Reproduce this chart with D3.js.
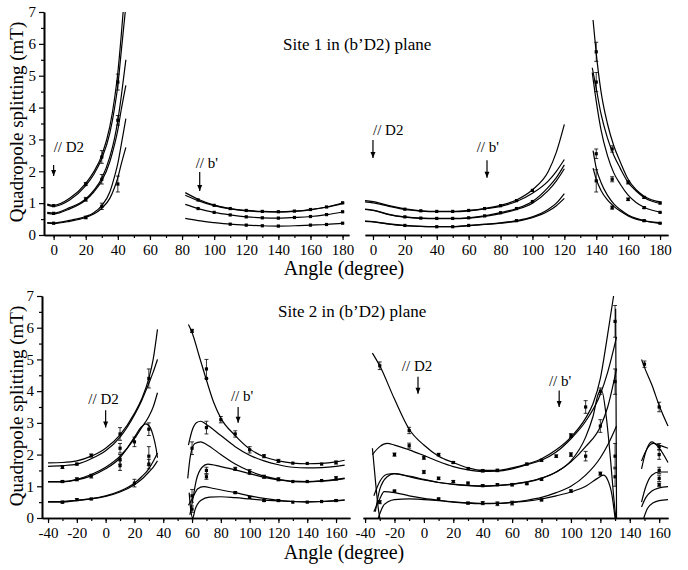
<!DOCTYPE html>
<html>
<head>
<meta charset="utf-8">
<script src="https://cdn.jsdelivr.net/npm/d3@7"></script>
<style>
  body { margin: 0; background: #fff; }
  svg { display: block; }
  text { font-family: "Liberation Serif", "Times New Roman", serif; fill: #000; }
</style>
</head>
<body>
<div id="chart"></div>
<script>
// ---------- DATA (angle in degree, quadrupole splitting in mT) ----------

// Site 1, left view, branch 0..45
const s1aCurves = [
  [[-4,0.97],[0,0.93],[10,1.15],[20,1.62],[25,1.98],[30,2.5],[35,3.4],[38,4.3],[40,5.1],[42,6.2],[43.3,7.0]],
  [[-4,0.94],[0,0.9],[10,1.1],[20,1.55],[25,1.9],[30,2.4],[35,3.2],[38,4.0],[40,4.7],[42,5.7],[44.6,7.0]],
  [[-4,0.71],[0,0.69],[10,0.86],[20,1.13],[25,1.4],[30,1.78],[35,2.45],[38,3.05],[40,3.6],[42,4.3],[45,5.5]],
  [[-4,0.68],[0,0.66],[10,0.82],[20,1.1],[25,1.35],[30,1.7],[35,2.3],[38,2.85],[40,3.3],[42,3.9],[45,4.7]],
  [[-4,0.39],[0,0.38],[10,0.46],[20,0.58],[25,0.7],[30,0.92],[35,1.35],[38,1.85],[40,2.25],[42,2.8],[45,3.65]],
  [[-4,0.37],[0,0.36],[10,0.43],[20,0.55],[25,0.66],[30,0.84],[35,1.15],[38,1.5],[40,1.8],[42,2.2],[45,2.75]]
]
const s1aPoints = [
  [0,0.92,0],[0,0.68,0],[0,0.37,0],
  [20,1.6,0.05],[20,1.12,0.06],[20,0.55,0.04],
  [30,2.45,0.2],[30,1.75,0.15],[30,0.9,0.1],
  [40,4.8,0.25],[40,3.6,0.15],[40,1.6,0.25]
]

// Site 1, left view, branch 82..180
const s1bCurves = [
  [[82,1.33],[90,1.12],[100,0.94],[110,0.83],[120,0.77],[130,0.74],[140,0.73],[150,0.75],[160,0.8],[170,0.88],[181,1.02]],
  [[82,1.25],[90,1.08],[100,0.92],[110,0.82],[120,0.76],[130,0.73],[140,0.72],[150,0.74],[160,0.79],[170,0.87],[181,1.0]],
  [[82,0.96],[90,0.83],[100,0.71],[110,0.63],[120,0.57],[130,0.54],[140,0.53],[150,0.55],[160,0.58],[170,0.64],[181,0.73]],
  [[82,0.52],[90,0.45],[100,0.39],[110,0.34],[120,0.31],[130,0.29],[140,0.28],[150,0.29],[160,0.31],[170,0.33],[181,0.37]]
]
const s1bPoints = [
  [90,1.1],[100,0.93],[110,0.83],[120,0.77],[130,0.74],[140,0.73],[150,0.75],[160,0.8],[170,0.88],[180,1.01],
  [90,0.83],[100,0.71],[110,0.63],[120,0.57],[130,0.54],[140,0.53],[150,0.55],[160,0.58],[170,0.64],[180,0.73],
  [110,0.34],[120,0.31],[130,0.29],[140,0.28],[160,0.31],[170,0.33],[180,0.37]
]

// Site 1, right view, branch -5..120
const s1cCurves = [
  [[-5,1.08],[0,1.05],[10,0.92],[20,0.82],[30,0.76],[40,0.74],[50,0.74],[60,0.77],[70,0.83],[80,0.93],[90,1.1],[100,1.42],[110,2.0],[115,2.6],[120,3.47]],
  [[-5,1.04],[0,1.01],[10,0.9],[20,0.8],[30,0.75],[40,0.73],[50,0.73],[60,0.76],[70,0.82],[80,0.9],[90,1.05],[100,1.31],[110,1.7],[115,2.0],[120,2.37]],
  [[-5,0.81],[0,0.78],[10,0.65],[20,0.57],[30,0.53],[40,0.52],[50,0.52],[60,0.54],[70,0.6],[80,0.7],[90,0.83],[100,1.05],[110,1.5],[115,1.8],[120,2.2]],
  [[-5,0.8],[0,0.77],[10,0.64],[20,0.56],[30,0.52],[40,0.51],[50,0.51],[60,0.53],[70,0.58],[80,0.67],[90,0.8],[100,1.0],[110,1.4],[115,1.7],[120,2.08]],
  [[-5,0.44],[0,0.42],[10,0.35],[20,0.3],[30,0.27],[40,0.26],[50,0.26],[60,0.3],[70,0.34],[80,0.38],[90,0.45],[100,0.57],[110,0.81],[115,1.0],[120,1.3]],
  [[-5,0.43],[0,0.41],[10,0.34],[20,0.29],[30,0.27],[40,0.26],[50,0.26],[60,0.29],[70,0.33],[80,0.37],[90,0.43],[100,0.54],[110,0.75],[115,0.92],[120,1.15]]
]
const s1cPoints = [
  [20,0.81],[30,0.76],[40,0.74],[50,0.74],[60,0.77],[70,0.83],[80,0.92],[90,1.08],[100,1.4],
  [20,0.57],[30,0.53],[40,0.52],[50,0.52],[60,0.54],[70,0.6],[80,0.7],[90,0.83],[100,1.05],
  [20,0.3],[40,0.26],[50,0.26],[60,0.3],[90,0.45]
]

// Site 1, right view, branch 138..180
const s1dCurves = [
  [[138,6.75],[140,5.7],[143,4.5],[147,3.5],[151,2.8],[155,2.3],[160,1.75],[165,1.42],[170,1.22],[181,1.03]],
  [[137.5,5.25],[140,4.6],[143,3.8],[147,3.05],[151,2.5],[155,2.1],[160,1.65],[165,1.38],[170,1.18],[181,0.98]],
  [[137.5,5.1],[140,4.2],[143,3.3],[147,2.5],[151,1.95],[155,1.6],[160,1.25],[165,1.02],[170,0.87],[181,0.71]],
  [[138,2.65],[140,2.1],[143,1.65],[147,1.25],[151,0.98],[155,0.8],[160,0.63],[165,0.52],[170,0.45],[181,0.38]],
  [[138,2.1],[140,1.75],[143,1.4],[147,1.1],[151,0.9],[155,0.75],[160,0.6],[165,0.5],[170,0.44],[181,0.36]]
]
const s1dPoints = [
  [140,5.75,0.3],[140,4.8,0.3],[140,2.55,0.15],[140,1.7,0.35],
  [150,2.7,0.1],[150,1.75,0.08],[150,0.86,0.05],
  [160,1.65,0.05],[160,1.12,0.04],
  [170,1.18,0.03],[170,0.86,0.03],[170,0.45,0.02],
  [180,1.0],[180,0.71],[180,0.37]
]

// Site 2, left view, branch -40..36
const s2aCurves = [
  [[-40,1.74],[-30,1.75],[-20,1.8],[-10,1.95],[0,2.2],[10,2.62],[20,3.3],[25,3.75],[30,4.4],[33,5.0],[36,5.95]],
  [[-40,1.63],[-30,1.65],[-20,1.7],[-10,1.87],[0,2.12],[10,2.55],[20,3.25],[25,3.7],[30,4.25],[33,4.6],[36,5.0]],
  [[-40,1.15],[-30,1.15],[-20,1.22],[-10,1.37],[0,1.6],[10,1.95],[20,2.5],[25,2.85],[30,3.2],[33,3.5],[36,3.95]],
  [[-40,1.14],[-30,1.14],[-20,1.2],[-10,1.33],[0,1.55],[10,1.9],[15,2.2],[20,2.55],[25,2.88],[28,2.97],[31,2.85],[33,2.6],[35,2.2],[36,1.9]],
  [[-40,0.52],[-30,0.52],[-20,0.56],[-10,0.61],[0,0.7],[10,0.85],[20,1.1],[25,1.3],[30,1.55],[33,1.78],[36,2.05]],
  [[-40,0.5],[-30,0.5],[-20,0.55],[-10,0.6],[0,0.68],[10,0.82],[20,1.05],[25,1.22],[30,1.45],[33,1.6],[36,1.8]]
]
const s2aPoints = [
  [-30,1.6,0.04],[-30,1.15,0.03],[-30,0.5,0.03],
  [-20,1.7,0.03],[-20,1.22,0.05],[-20,0.58,0.03],
  [-10,1.97,0.05],[-10,1.32,0.06],[-10,0.6,0.02],
  [10,2.65,0.2],[10,2.2,0.15],[10,1.85,0.15],[10,1.65,0.15],
  [20,2.4,0.15],[20,1.1,0.12],
  [30,4.4,0.3],[30,2.8,0.2],[30,1.95,0.3],[30,1.7,0.15]
]

// Site 2, left view, branch 57..166
const s2bCurves = [
  [[57.5,6.1],[60,5.85],[65,5.1],[70,4.35],[75,3.65],[80,3.15],[90,2.6],[100,2.18],[110,1.93],[120,1.8],[130,1.73],[140,1.71],[150,1.72],[160,1.77],[166,1.82]],
  [[57.5,2.3],[60,2.75],[63,3.0],[66,3.05],[70,2.95],[80,2.6],[90,2.25],[100,1.98],[110,1.8],[120,1.68],[130,1.6],[140,1.58],[150,1.59],[160,1.63],[166,1.67]],
  [[57,1.25],[59,2.0],[62,2.35],[66,2.4],[70,2.32],[80,2.0],[90,1.7],[100,1.48],[110,1.32],[120,1.22],[130,1.16],[140,1.15],[150,1.17],[160,1.22],[166,1.26]],
  [[58.5,0.1],[60,0.45],[63,1.2],[67,1.6],[71,1.7],[80,1.62],[90,1.52],[100,1.4],[110,1.28],[120,1.2],[130,1.15],[140,1.14],[150,1.16],[160,1.2],[166,1.24]],
  [[57.5,0.4],[60,0.6],[64,0.92],[68,0.99],[75,0.93],[90,0.8],[100,0.7],[110,0.62],[120,0.56],[130,0.52],[140,0.51],[150,0.52],[160,0.55],[166,0.57]],
  [[58,0.8],[59,0.3],[60.5,0.0],[62,0.25],[66,0.55],[72,0.66],[80,0.67],[90,0.64],[100,0.6],[110,0.56],[120,0.54],[130,0.52],[140,0.51],[150,0.52],[160,0.54],[166,0.56]]
]
const s2bPoints = [
  [60,5.9,0.05],[60,2.2,0.2],[60,0.7,0.2],[60,0.28,0.1],
  [70,4.7,0.3],[70,4.4,0],[70,2.85,0.2],[70,1.5,0.1],[70,1.3,0.08],
  [80,3.1,0.1],
  [90,2.65,0.1],[90,1.55,0.05],[90,0.8,0.03],
  [100,2.15,0.1],[100,1.45,0.08],[100,0.65,0.03],
  [110,1.95,0.05],[110,1.3,0.05],[110,0.55,0.03],
  [120,1.8,0.05],[120,1.22,0.05],[120,0.55,0.03],
  [130,1.73],[130,1.15],[130,0.5],
  [140,1.72],[140,1.15],[140,0.5],
  [150,1.7],[150,1.18],[150,0.52],
  [160,1.75,0.05],[160,1.25,0.06],[160,0.55,0.03]
]

// Site 2, right view, branch -35..131
const s2cCurves = [
  [[-35,5.2],[-30,4.8],[-20,3.75],[-10,2.8],[0,2.3],[10,1.95],[20,1.75],[30,1.58],[40,1.5],[50,1.5],[60,1.58],[70,1.7],[80,1.87],[90,2.15],[100,2.55],[110,3.15],[115,3.6],[120,4.4],[124,5.5],[127,6.4],[129,7.0]],
  [[-35,2.0],[-30,2.25],[-25,2.35],[-20,2.3],[-10,2.15],[0,1.97],[10,1.78],[20,1.62],[30,1.52],[40,1.47],[50,1.48],[60,1.55],[70,1.68],[80,1.82],[90,2.08],[100,2.5],[110,3.05],[120,3.9],[125,4.6],[131,5.7]],
  [[-33,0.2],[-30,0.9],[-25,1.3],[-20,1.4],[-10,1.32],[0,1.22],[10,1.12],[20,1.07],[30,1.03],[40,1.01],[50,1.03],[60,1.07],[70,1.14],[80,1.26],[90,1.45],[100,1.77],[110,2.25],[120,2.88],[125,3.5],[131,4.7]],
  [[-34,0.7],[-30,1.15],[-25,1.38],[-20,1.4],[-10,1.3],[0,1.2],[10,1.12],[20,1.06],[30,1.02],[40,1.0],[50,1.02],[60,1.06],[70,1.13],[80,1.25],[90,1.45],[100,1.8],[110,2.55],[115,3.2],[119,3.95],[121,4.0],[124,3.2],[127,1.8],[129,0.7],[130.5,0.0]],
  [[-34,0.2],[-30,0.6],[-27,0.83],[-20,0.8],[-10,0.7],[0,0.62],[10,0.56],[20,0.51],[30,0.48],[40,0.46],[50,0.46],[60,0.49],[70,0.53],[80,0.6],[90,0.7],[100,0.82],[110,1.0],[118,1.25],[122,1.35],[125,1.2],[128,0.7],[130,0.0]],
  [[-31,0.0],[-28,0.35],[-24,0.52],[-20,0.58],[-10,0.6],[0,0.58],[10,0.55],[20,0.5],[30,0.47],[40,0.45],[50,0.46],[60,0.5],[70,0.56],[80,0.65],[90,0.8],[100,1.0],[110,1.35],[120,1.9],[125,2.3],[131,2.9]],
  [[-35,2.2],[-33,1.2],[-31,0.3],[-30,0.0]],
  [[130.4,6.6],[130.7,3.5],[131,0.0]]
]
const s2cPoints = [
  [-30,4.8,0.12],[-30,0.5,0.05],
  [-20,2.0,0.05],[-20,0.85,0.03],
  [-10,2.76,0.1],[-10,2.28,0.08],
  [0,1.9,0.05],[0,1.45,0.05],
  [10,2.0,0.04],[10,1.25,0.04],[10,0.6,0.03],
  [20,1.75,0.03],[20,1.15,0.03],
  [30,1.56,0.03],[30,1.1,0.03],[30,0.47,0.03],
  [40,1.49,0.04],[40,1.02,0.03],[40,0.47,0.05],
  [50,1.5,0.04],[50,1.05,0.03],[50,0.45,0.06],
  [60,1.05,0.04],[60,0.47,0.06],
  [70,1.7,0.03],[70,1.08,0.02],
  [80,1.82,0.03],[80,1.22,0.03],[80,0.57,0.03],
  [90,1.95,0.04],
  [100,2.6,0.06],[100,2.0,0.06],[100,0.85,0.04],
  [110,3.5,0.2],[110,1.95,0.15],
  [120,4.0,0.1],[120,2.9,0.2],[120,1.4,0.05],
  [130,6.2,0.5],[130,4.3,0.4],[130,1.95,0.4],[130,1.3,0.3]
]

// Site 2, right view, branch 148..166
const s2dCurves = [
  [[148,5.0],[150,4.75],[155,4.2],[160,3.55],[166,2.9]],
  [[148,1.8],[152,2.2],[156,2.35],[160,2.3],[166,2.2]],
  [[148,1.55],[151,2.1],[155,2.4],[160,2.2],[166,1.75]],
  [[148,0.5],[151,1.0],[155,1.35],[160,1.45],[166,1.45]],
  [[148,0.35],[151,0.65],[155,0.85],[160,0.95],[166,0.99]],
  [[149.5,0.0],[152,0.3],[156,0.48],[160,0.55],[166,0.58]]
]
const s2dPoints = [
  [150,4.85,0.1],[160,3.5,0.15],[160,2.25,0.1],[160,2.0,0.15],[160,1.5,0.1],[160,1.25,0.1],[160,1.05,0.05]
]

// tick labels
const yTicks = [0, 1, 2, 3, 4, 5, 6, 7]
const xTicksTop = [0, 20, 40, 60, 80, 100, 120, 140, 160, 180]
const xTicksBottom = [-40, -20, 0, 20, 40, 60, 80, 100, 120, 140, 160]

// direction markers: [label, text angle, text value, arrow angle, arrow top, arrow tip]
const s1LeftNotes = [["// D2", 0, 2.6, 0, 2.2, 1.85], ["// b'", 88.5, 2.1, 91, 1.98, 1.38]]
const s1RightNotes = [["// D2", 0, 3.13, 0, 2.98, 2.42], ["// b'", 65, 2.6, 71.5, 2.35, 1.8]]
const s2LeftNotes = [["// D2", -12, 3.6, 0, 3.4, 2.85], ["// b'", 87, 3.7, 92, 3.5, 3.0]]
const s2RightNotes = [["// D2", -15, 4.65, -4, 4.45, 3.92], ["// b'", 85, 4.17, 92, 4.02, 3.5]]

// ---------- DIMENSIONS ----------
const dimensions = { width: 688, height: 570 }

const svg = d3.select("#chart")
  .append("svg")
  .attr("width", dimensions.width)
  .attr("height", dimensions.height)

// ---------- SCALES ----------
const yTop = d3.scaleLinear().domain([0, 7]).range([235, 12])
const yBot = d3.scaleLinear().domain([0, 7]).range([518, 296])

const xTopLeft = d3.scaleLinear().domain([-6, 184]).range([44, 349])
const xTopRight = d3.scaleLinear().domain([-5, 185]).range([365, 668])
const xBotLeft = d3.scaleLinear().domain([-44.2, 169.7]).range([42, 350])
const xBotRight = d3.scaleLinear().domain([-41.4, 166]).range([363, 668])

// ---------- DRAW DATA ----------
function drawPart(xScale, yScale, curves, points) {
  const g = svg.append("g")
  const line = d3.line()
    .x(d => xScale(d[0]))
    .y(d => yScale(d[1]))
    .curve(d3.curveMonotoneX)

  g.selectAll(null)
    .data(curves)
    .enter().append("path")
      .attr("d", line)
      .attr("fill", "none")
      .attr("stroke", "#000")
      .attr("stroke-width", 1.2)

  g.selectAll(null)
    .data(points.filter(d => d[2]))
    .enter().append("path")
      .attr("d", d => {
        const x = xScale(d[0])
        const y1 = yScale(d[1] - d[2])
        const y2 = yScale(d[1] + d[2])
        return `M${x},${y1}V${y2}M${x - 2},${y1}h4M${x - 2},${y2}h4`
      })
      .attr("stroke", "#000")
      .attr("stroke-width", 0.8)
      .attr("fill", "none")

  g.selectAll(null)
    .data(points)
    .enter().append("rect")
      .attr("x", d => xScale(d[0]) - 1.6)
      .attr("y", d => yScale(d[1]) - 1.6)
      .attr("width", 3.2)
      .attr("height", 3.2)
      .attr("fill", "#000")
}

drawPart(xTopLeft, yTop, s1aCurves, s1aPoints)
drawPart(xTopLeft, yTop, s1bCurves, s1bPoints)
drawPart(xTopRight, yTop, s1cCurves, s1cPoints)
drawPart(xTopRight, yTop, s1dCurves, s1dPoints)
drawPart(xBotLeft, yBot, s2aCurves, s2aPoints)
drawPart(xBotLeft, yBot, s2bCurves, s2bPoints)
drawPart(xBotRight, yBot, s2cCurves, s2cPoints)
drawPart(xBotRight, yBot, s2dCurves, s2dPoints)

// ---------- PERIPHERALS ----------
function styleAxis(axis) {
  axis.select(".domain").attr("stroke-width", 1.6)
  axis.selectAll(".tick line").attr("stroke-width", 1.2)
  axis.selectAll("text").style("font-size", "15px").style("font-family", "Liberation Serif, serif")
}

function drawXAxis(xScale, y, ticks) {
  const [d0, d1] = xScale.domain()
  const minor = d3.range(Math.ceil(d0 / 10) * 10, d1, 10)
  svg.append("g")
    .attr("transform", `translate(0,${y})`)
    .call(d3.axisBottom(xScale).tickValues(minor).tickSize(3).tickSizeOuter(0).tickFormat(""))
    .call(styleAxis)
  svg.append("g")
    .attr("transform", `translate(0,${y})`)
    .call(d3.axisBottom(xScale).tickValues(ticks).tickSize(5).tickSizeOuter(0).tickPadding(4)
      .tickFormat(d => String(d)))
    .call(styleAxis)
}

function drawYAxis(yScale, x) {
  svg.append("g")
    .attr("transform", `translate(${x},0)`)
    .call(d3.axisLeft(yScale).tickValues(d3.range(0.5, 7, 1)).tickSize(3).tickSizeOuter(0).tickFormat(""))
    .call(styleAxis)
  svg.append("g")
    .attr("transform", `translate(${x},0)`)
    .call(d3.axisLeft(yScale).tickValues(yTicks).tickSize(5).tickSizeOuter(0).tickPadding(3)
      .tickFormat(d => String(d)))
    .call(styleAxis)
}

drawXAxis(xTopLeft, 235, xTicksTop)
drawXAxis(xTopRight, 235, xTicksTop)
drawXAxis(xBotLeft, 518, xTicksBottom)
drawXAxis(xBotRight, 518, xTicksBottom)
drawYAxis(yTop, 44)
drawYAxis(yBot, 42)

// direction notes
function drawNotes(xScale, yScale, notes) {
  const g = svg.append("g")
  g.selectAll(null)
    .data(notes)
    .enter().append("text")
      .attr("x", d => xScale(d[1]))
      .attr("y", d => yScale(d[2]))
      .style("font-size", "15px")
      .text(d => d[0])
  g.selectAll(null)
    .data(notes)
    .enter().append("path")
      .attr("d", d => {
        const x = xScale(d[3])
        const y1 = yScale(d[4])
        const y2 = yScale(d[5])
        return `M${x},${y1}V${y2}`
      })
      .attr("stroke", "#000")
      .attr("stroke-width", 1.2)
  g.selectAll(null)
    .data(notes)
    .enter().append("path")
      .attr("d", d => {
        const x = xScale(d[3])
        const y2 = yScale(d[5])
        return `M${x - 2.5},${y2 - 6}L${x},${y2}L${x + 2.5},${y2 - 6}Z`
      })
      .attr("fill", "#000")
}

drawNotes(xTopLeft, yTop, s1LeftNotes)
drawNotes(xTopRight, yTop, s1RightNotes)
drawNotes(xBotLeft, yBot, s2LeftNotes)
drawNotes(xBotRight, yBot, s2RightNotes)

// titles and axis labels
svg.append("text")
  .attr("x", 283).attr("y", 50)
  .style("font-size", "17px")
  .text("Site 1 in (b\u2019D2) plane")
svg.append("text")
  .attr("x", 278).attr("y", 317)
  .style("font-size", "17px")
  .text("Site 2 in (b\u2019D2) plane")

svg.append("text")
  .attr("x", 344).attr("y", 275)
  .attr("text-anchor", "middle")
  .style("font-size", "20px")
  .text("Angle (degree)")
svg.append("text")
  .attr("x", 344).attr("y", 559)
  .attr("text-anchor", "middle")
  .style("font-size", "20px")
  .text("Angle (degree)")

svg.append("text")
  .attr("transform", "translate(23,122) rotate(-90)")
  .attr("text-anchor", "middle")
  .style("font-size", "19px")
  .text("Quadropole splitting (mT)")
svg.append("text")
  .attr("transform", "translate(23,406) rotate(-90)")
  .attr("text-anchor", "middle")
  .style("font-size", "19px")
  .text("Quadropole splitting (mT)")
</script>
</body>
</html>
